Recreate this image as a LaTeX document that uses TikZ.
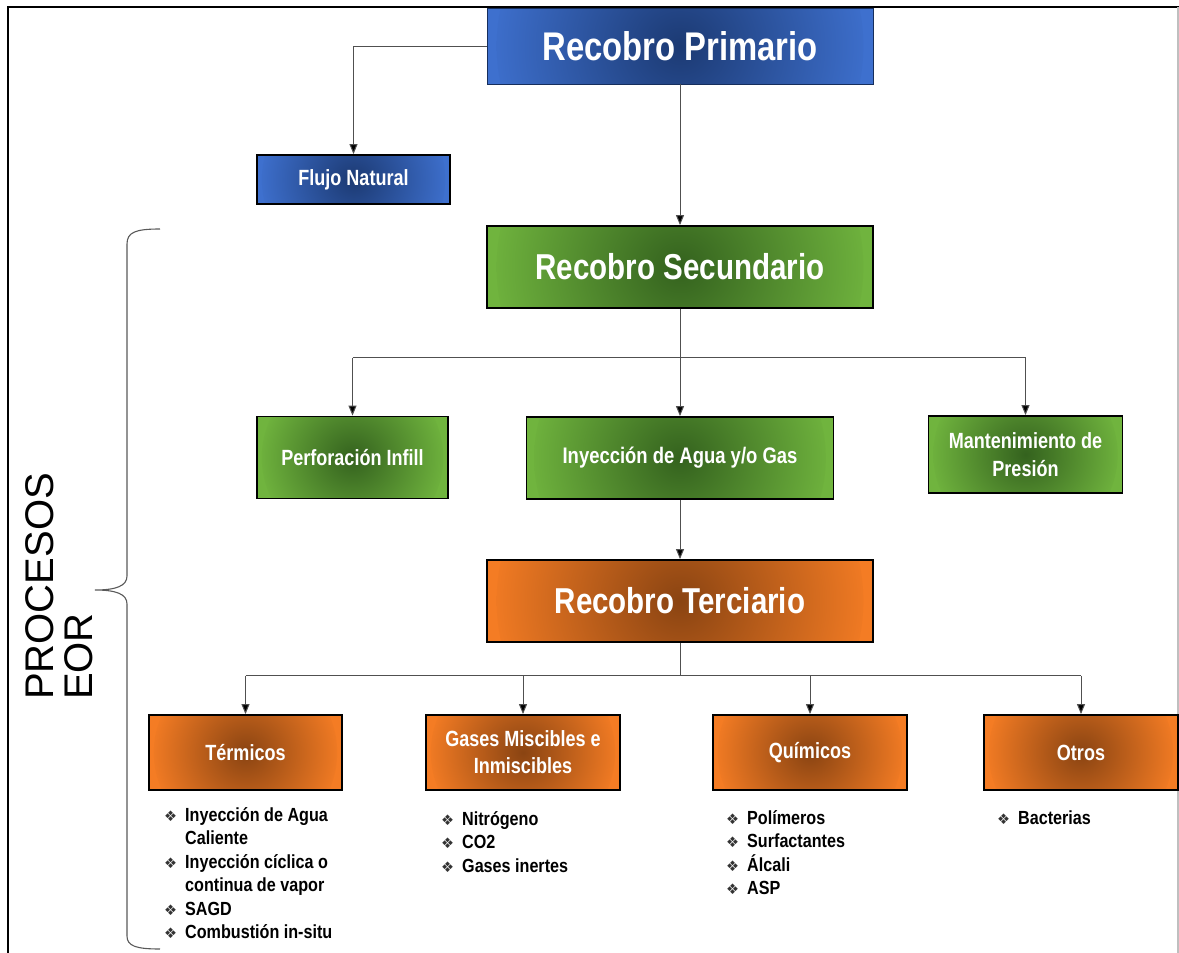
\documentclass[tikz,border=0pt]{standalone}
\usepackage{fontspec}
\setmainfont{Liberation Sans}
\newfontfamily\narrowfont{Liberation Sans}[FakeStretch=0.82]
\newfontfamily\listfont{Liberation Sans}[FakeStretch=0.85]
\newfontfamily\symbolfont{DejaVu Sans}
\usetikzlibrary{arrows.meta,calc}

\definecolor{bluein}{RGB}{28,58,115}
\definecolor{blueout}{RGB}{62,112,206}
\definecolor{greenin}{RGB}{52,98,30}
\definecolor{greenout}{RGB}{112,180,62}
\definecolor{orangein}{RGB}{138,68,18}
\definecolor{orangeout}{RGB}{244,124,36}
\definecolor{linkgray}{RGB}{80,80,80}

% bullet column for the technique lists
\newcommand\bul{\makebox[21pt][l]{\symbolfont\fontsize{14.5}{14.5}\selectfont\color{black!80}\raisebox{0pt}{❖}}}
\newcommand\ind{\hspace*{21pt}}
\newcommand\firstline{\rule{0pt}{18pt}}

\tikzset{
  box/.style={draw=black, line width=1.8pt, inner sep=0pt, align=center, text=white},
  % round glow: dark centre fading to the edge colour across the box width
  glow/.style 2 args={preaction={fill=#2, path picture={
      \shade[inner color=#1, outer color=#2]
        let \p1=(path picture bounding box.east), \p2=(path picture bounding box.center)
        in (\p2) circle[radius={0.95*(\x1-\x2)}];}}},
  bluebox/.style={box, glow={bluein}{blueout}},
  greenbox/.style={box, glow={greenin}{greenout}},
  orangebox/.style={box, glow={orangein}{orangeout}},
  bigtitle/.style={font=\narrowfont\bfseries\fontsize{40}{44}\selectfont},
  midtitle/.style={font=\narrowfont\bfseries\fontsize{36}{40}\selectfont},
  smalltitle/.style={font=\narrowfont\bfseries\fontsize{22}{28}\selectfont},
  listtext/.style={inner sep=0pt, anchor=north west, align=left, text=black,
    font=\listfont\bfseries\fontsize{19}{23.5}\selectfont},
  conn/.style={draw=linkgray, line width=1pt},
  arr/.style={conn, -{Triangle[length=10pt,width=8pt,fill=black]}},
}

\begin{document}
\begin{tikzpicture}[x=1pt, y=-1pt]
\useasboundingbox (0,0) rectangle (1179,953);

% frame
\draw[black, line width=2pt] (8,953) -- (8,7) -- (1179,7);
\draw[black!25, line width=1.5pt] (1178,7) -- (1178,953);

% level boxes
\node[bluebox, bigtitle, draw=bluein!80!black, line width=0.8pt, minimum width=386, minimum height=76] (prim) at (680,46) {Recobro Primario};
\node[bluebox, smalltitle, minimum width=193, minimum height=49] (flujo) at (353.5,179.5) {Flujo Natural};

\node[greenbox, midtitle, minimum width=386, minimum height=82] (sec) at (680,267) {Recobro Secundario};
\node[greenbox, smalltitle, minimum width=191, minimum height=82] (perf) at (352.5,457.5) {Perforación Infill};
\node[greenbox, smalltitle, font=\narrowfont\bfseries\fontsize{22.5}{28}\selectfont, minimum width=307, minimum height=82] (iny) at (680,458) {Inyección de Agua y/o Gas};
\node[greenbox, smalltitle, minimum width=194, minimum height=77] (mant) at (1025.5,454.5) {Mantenimiento de\\Presión};

\node[orangebox, midtitle, minimum width=386, minimum height=82] (ter) at (680,601) {Recobro Terciario};
\node[orangebox, smalltitle, minimum width=193, minimum height=75] (term) at (245.5,752.5) {Térmicos};
\node[orangebox, smalltitle, font=\narrowfont\bfseries\fontsize{22}{27}\selectfont, minimum width=194, minimum height=75] (gases) at (523,752.5) {Gases Miscibles e\\Inmiscibles};
\node[orangebox, smalltitle, minimum width=194, minimum height=75] (quim) at (810,752.5) {Químicos};
\node[orangebox, smalltitle, minimum width=194, minimum height=75] (otros) at (1081,752.5) {Otros};

% connectors: primary level
\draw[arr] (prim.west) -| (flujo.north);
\draw[arr] (prim.south) -- (sec.north);

% connectors: secondary level
\draw[conn] (sec.south) -- ++(0,49) coordinate (bus2);
\draw[conn] (bus2 -| perf.north) -- (bus2 -| mant.north);
\draw[arr] (bus2 -| perf.north) -- (perf.north);
\draw[arr] (bus2) -- (iny.north);
\draw[arr] (bus2 -| mant.north) -- (mant.north);
\draw[arr] (iny.south) -- (ter.north);

% connectors: tertiary level
\draw[conn] (ter.south) -- ++(0,33) coordinate (bus3);
\draw[conn] (bus3 -| term.north) -- (bus3 -| otros.north);
\draw[arr] (bus3 -| term.north) -- (term.north);
\draw[arr] (bus3 -| gases.north) -- (gases.north);
\draw[arr] (bus3 -| quim.north) -- (quim.north);
\draw[arr] (bus3 -| otros.north) -- (otros.north);

% technique lists
\node[listtext] (lterm) at (164,803) {\bul\firstline Inyección de Agua\\\ind Caliente\\\bul Inyección cíclica o\\\ind continua de vapor\\\bul SAGD\\\bul Combustión in-situ};
\node[listtext] (lgases) at (441,807) {\bul\firstline Nitrógeno\\\bul CO2\\\bul Gases inertes};
\node[listtext] (lquim) at (726,806) {\bul\firstline Polímeros\\\bul Surfactantes\\\bul Álcali\\\bul ASP};
\node[listtext] (lotros) at (997,806) {\bul\firstline Bacterias};

% EOR brace and label
\draw[black!65, line width=1.1pt]
  (160,229) .. controls (136,229) and (127,232) .. (127,244)
  -- (127,576) .. controls (127,586) and (116,590) .. (95,590)
  .. controls (116,590) and (127,594) .. (127,604)
  -- (127,936) .. controls (127,946) and (136,949) .. (160,949);
\node[rotate=90, anchor=north west, inner sep=0pt, align=left,
  font=\fontsize{40}{39}\selectfont] (eor) at (25,700) {PROCESOS\\EOR};
\end{tikzpicture}
\end{document}
